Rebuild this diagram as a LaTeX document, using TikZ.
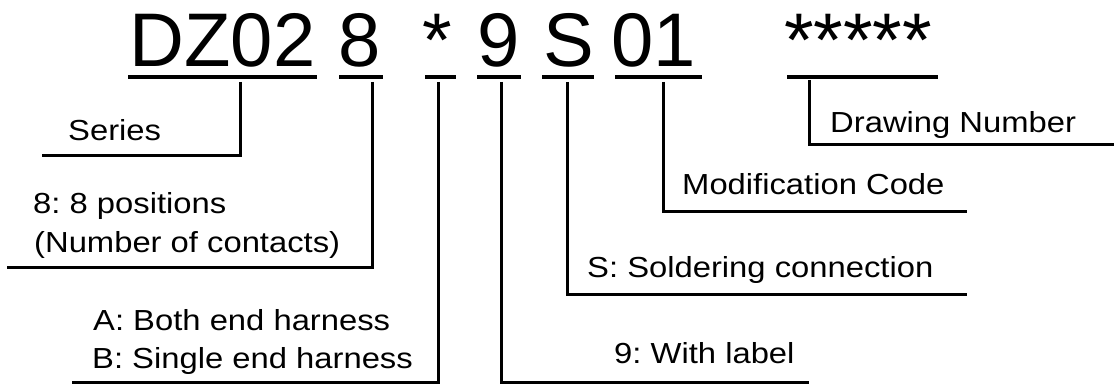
\documentclass[tikz,border=0pt]{standalone}
\usepackage{fontspec}
\setmainfont{Liberation Sans}
\frenchspacing
\newcommand{\labtxt}[1]{\scalebox{1.13}[1]{#1}}
\begin{document}
\begin{tikzpicture}[x=1pt,y=-1pt,
  code/.style={anchor=base, inner sep=0pt, font=\fontsize{76}{80}\selectfont},
  lab/.style={anchor=base west, inner sep=0pt, font=\fontsize{29}{35}\selectfont},
  uline/.style={line width=3.3pt},
  conn/.style={line width=3pt}]
\useasboundingbox[fill=white] (0,0) rectangle (1114,385);

% code characters
\node[code] (tDZ) at (222.5,67) {DZ02};
\node[code] (t8)  at (360,67) {8};
\node[code] (tst) at (437.5,67) {*};
\node[code] (t9)  at (498.5,67) {9};
\node[code] (tS)  at (568.5,67) {S};
\node[code] (t01) at (653.5,67) {01};
\node[code] (tdn) at (858,67) {*****};

% underlines
\draw[uline] (128,77) coordinate (uDZa) -- (317,77) coordinate (uDZb);
\draw[uline] (339,77) coordinate (u8a) -- (383,77) coordinate (u8b);
\draw[uline] (425,77) coordinate (usta) -- (456,77) coordinate (ustb);
\draw[uline] (477,77) coordinate (u9a) -- (521,77) coordinate (u9b);
\draw[uline] (542,77) coordinate (uSa) -- (594,77) coordinate (uSb);
\draw[uline] (615,77) coordinate (u01a) -- (702,77) coordinate (u01b);
\draw[uline] (787,77) coordinate (udna) -- (938,77) coordinate (udnb);

% connector start points
\coordinate (cDZ) at (240,82);
\coordinate (c8)  at (372,82);
\coordinate (cst) at (438,82);
\coordinate (c9)  at (501,82);
\coordinate (cS)  at (567,82);
\coordinate (c01) at (663,82);
\coordinate (cdn) at (809,80);

% connector free ends
\coordinate (eDZ) at (42,156);
\coordinate (e8)  at (7,267);
\coordinate (est) at (72,382);
\coordinate (e9)  at (809,382);
\coordinate (eS)  at (967,294);
\coordinate (e01) at (967,211);
\coordinate (edn) at (1116,145);

\draw[conn] (cDZ) |- (eDZ);
\draw[conn] (c8)  |- (e8);
\draw[conn] (cst) |- (est);
\draw[conn] (c9)  |- (e9);
\draw[conn] (cS)  |- (eS);
\draw[conn] (c01) |- (e01);
\draw[conn] (cdn) |- (edn);

% labels
\node[lab] (lDZ)  at (68,141) {\labtxt{Series}};
\node[lab] (l8a)  at (33,213) {\labtxt{8: 8 positions}};
\node[lab] (l8b)  at (34,252) {\labtxt{(Number of contacts)}};
\node[lab] (lsta) at (93,330) {\labtxt{A: Both end harness}};
\node[lab] (lstb) at (92,368) {\labtxt{B: Single end harness}};
\node[lab] (l9)   at (614,363) {\labtxt{9: With label}};
\node[lab] (lS)   at (587,277) {\labtxt{S: Soldering connection}};
\node[lab] (l01)  at (682,194) {\labtxt{Modification Code}};
\node[lab] (ldn)  at (830,133) {\labtxt{Drawing Number}};
\end{tikzpicture}
\end{document}
